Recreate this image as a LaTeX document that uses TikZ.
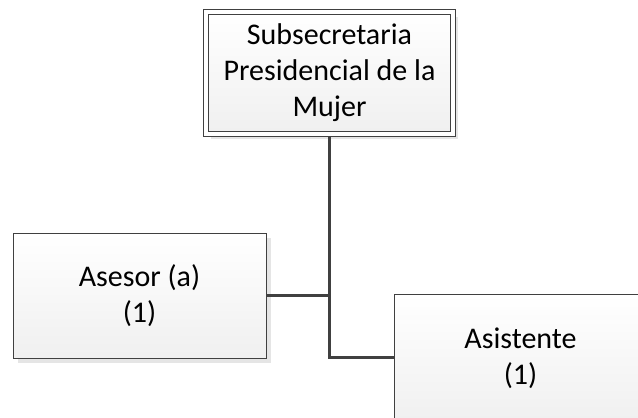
\documentclass[tikz,border=0pt]{standalone}
\usepackage{fontspec}
\setmainfont{Carlito}
\usetikzlibrary{shadows}

\begin{document}
\begin{tikzpicture}[x=1pt, y=1pt,
    orgbox/.style={rectangle, draw=black!75, line width=0.8pt,
        top color=white, bottom color=black!6,
        drop shadow={shadow xshift=5pt, shadow yshift=-5pt, fill=black!10, opacity=1},
        minimum width=253pt, minimum height=128pt, inner sep=0pt,
        align=center, font=\fontsize{30}{36}\selectfont},
    headbox/.style={orgbox, double=white, double distance=4.4pt,
        minimum width=247pt, minimum height=122pt},
    link/.style={draw=black!75, line width=3pt}]

    % Picture frame, the last box runs past it
    \clip (0, 0) rectangle (638, 418);

    % Boxes of the chart
    \node[headbox] (sub) at (329.5, 345) {Subsecretaria\\Presidencial de la\\Mujer};
    \node[orgbox, minimum height=125pt] (asesor) at (139.5, 122.5) {Asesor (a)\\(1)};
    \node[orgbox] (asistente) at (520.5, 60) {Asistente\\(1)};

    % Branch points on the trunk
    \coordinate (j1) at (sub.south |- asesor.east);
    \coordinate (j2) at (sub.south |- asistente.west);

    % Connectors
    \draw[link, shorten <=3pt] (sub.south) -- (j2) -- (asistente.west);
    \draw[link] (asesor.east) -- (j1);

\end{tikzpicture}
\end{document}
